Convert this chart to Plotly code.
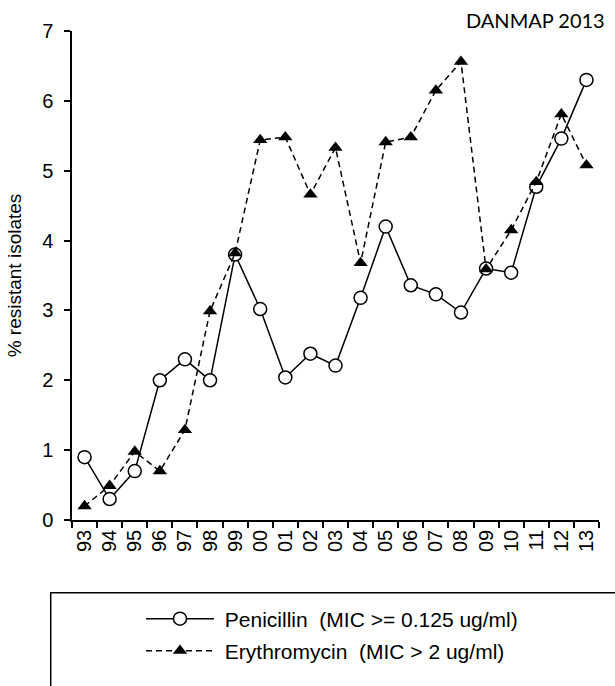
import plotly.graph_objects as go

# Year labels (1993-2013) and percentage of resistant isolates
years = ["93", "94", "95", "96", "97", "98", "99", "00", "01", "02", "03",
         "04", "05", "06", "07", "08", "09", "10", "11", "12", "13"]
penicillin = [0.9, 0.3, 0.7, 2.0, 2.3, 2.0, 3.8, 3.02, 2.04, 2.38, 2.21,
              3.18, 4.2, 3.36, 3.23, 2.97, 3.6, 3.54, 4.77, 5.46, 6.3]
erythromycin = [0.2, 0.49, 0.98, 0.7, 1.29, 2.99, 3.82, 5.44, 5.48, 4.66, 5.33,
                3.68, 5.41, 5.48, 6.15, 6.56, 3.59, 4.15, 4.84, 5.81, 5.08]
y_ticks = [0, 1, 2, 3, 4, 5, 6, 7]

FONT = "Arial, Liberation Sans, sans-serif"
NB = "\u00a0"

fig = go.Figure()

fig.add_trace(go.Scatter(
    x=years, y=penicillin, mode="lines+markers",
    name=NB + "Penicillin" + NB * 2 + "(MIC >= 0.125 ug/ml)",
    line=dict(color="black", width=1.5),
    marker=dict(symbol="circle", size=13, color="white",
                line=dict(color="black", width=1.5)),
    legend="legend",
))

fig.add_trace(go.Scatter(
    x=years, y=erythromycin, mode="lines+markers",
    name=NB + "Erythromycin" + NB * 2 + "(MIC > 2 ug/ml)",
    line=dict(color="black", width=1.5, dash="6px,4px"),
    marker=dict(symbol="triangle-up", size=12.5, color="black",
                line=dict(color="black", width=0)),
    legend="legend2",
))

legend_common = dict(
    xanchor="left", yanchor="middle", bgcolor="rgba(0,0,0,0)",
    borderwidth=0, itemwidth=68,
    font=dict(family=FONT, size=21, color="black"),
)

fig.update_layout(
    width=615, height=686,
    margin=dict(l=72, r=16, t=31, b=166),
    paper_bgcolor="white", plot_bgcolor="white",
    font=dict(family=FONT, size=20, color="black"),
    showlegend=True,
    legend=dict(x=0.1309, y=-0.2025, **legend_common),
    legend2=dict(x=0.1309, y=-0.268, **legend_common),
    xaxis=dict(
        type="category", range=[-0.5, 20.5], tickson="boundaries",
        ticks="outside", ticklen=6, tickwidth=1.5, tickcolor="black",
        showline=True, linewidth=1.5, linecolor="black",
        showgrid=False, zeroline=False, tickangle=-90,
        tickfont=dict(family=FONT, size=20, color="black"),
    ),
    yaxis=dict(
        range=[0, 7], tickvals=y_ticks,
        ticks="outside", ticklen=6, tickwidth=1.5, tickcolor="black",
        showline=True, linewidth=1.5, linecolor="black",
        showgrid=False, zeroline=False, ticklabelstandoff=7,
        tickfont=dict(family=FONT, size=20, color="black"),
        title=dict(text="% resistant isolates",
                   font=dict(family=FONT, size=19, color="black")),
    ),
)

# Frame around the legend area
fig.add_shape(type="rect", xref="paper", yref="paper",
              x0=-0.0404, x1=1.05, y0=-0.3476, y1=-0.1487,
              line=dict(color="black", width=1.5), fillcolor="rgba(0,0,0,0)")

# Source label
fig.add_annotation(text="DANMAP 2013", xref="paper", yref="paper",
                   x=1.0152, y=1.0215, xanchor="right", yanchor="middle",
                   showarrow=False,
                   font=dict(family="Lato, sans-serif", size=20, color="black"))

fig.write_html("out.html")
